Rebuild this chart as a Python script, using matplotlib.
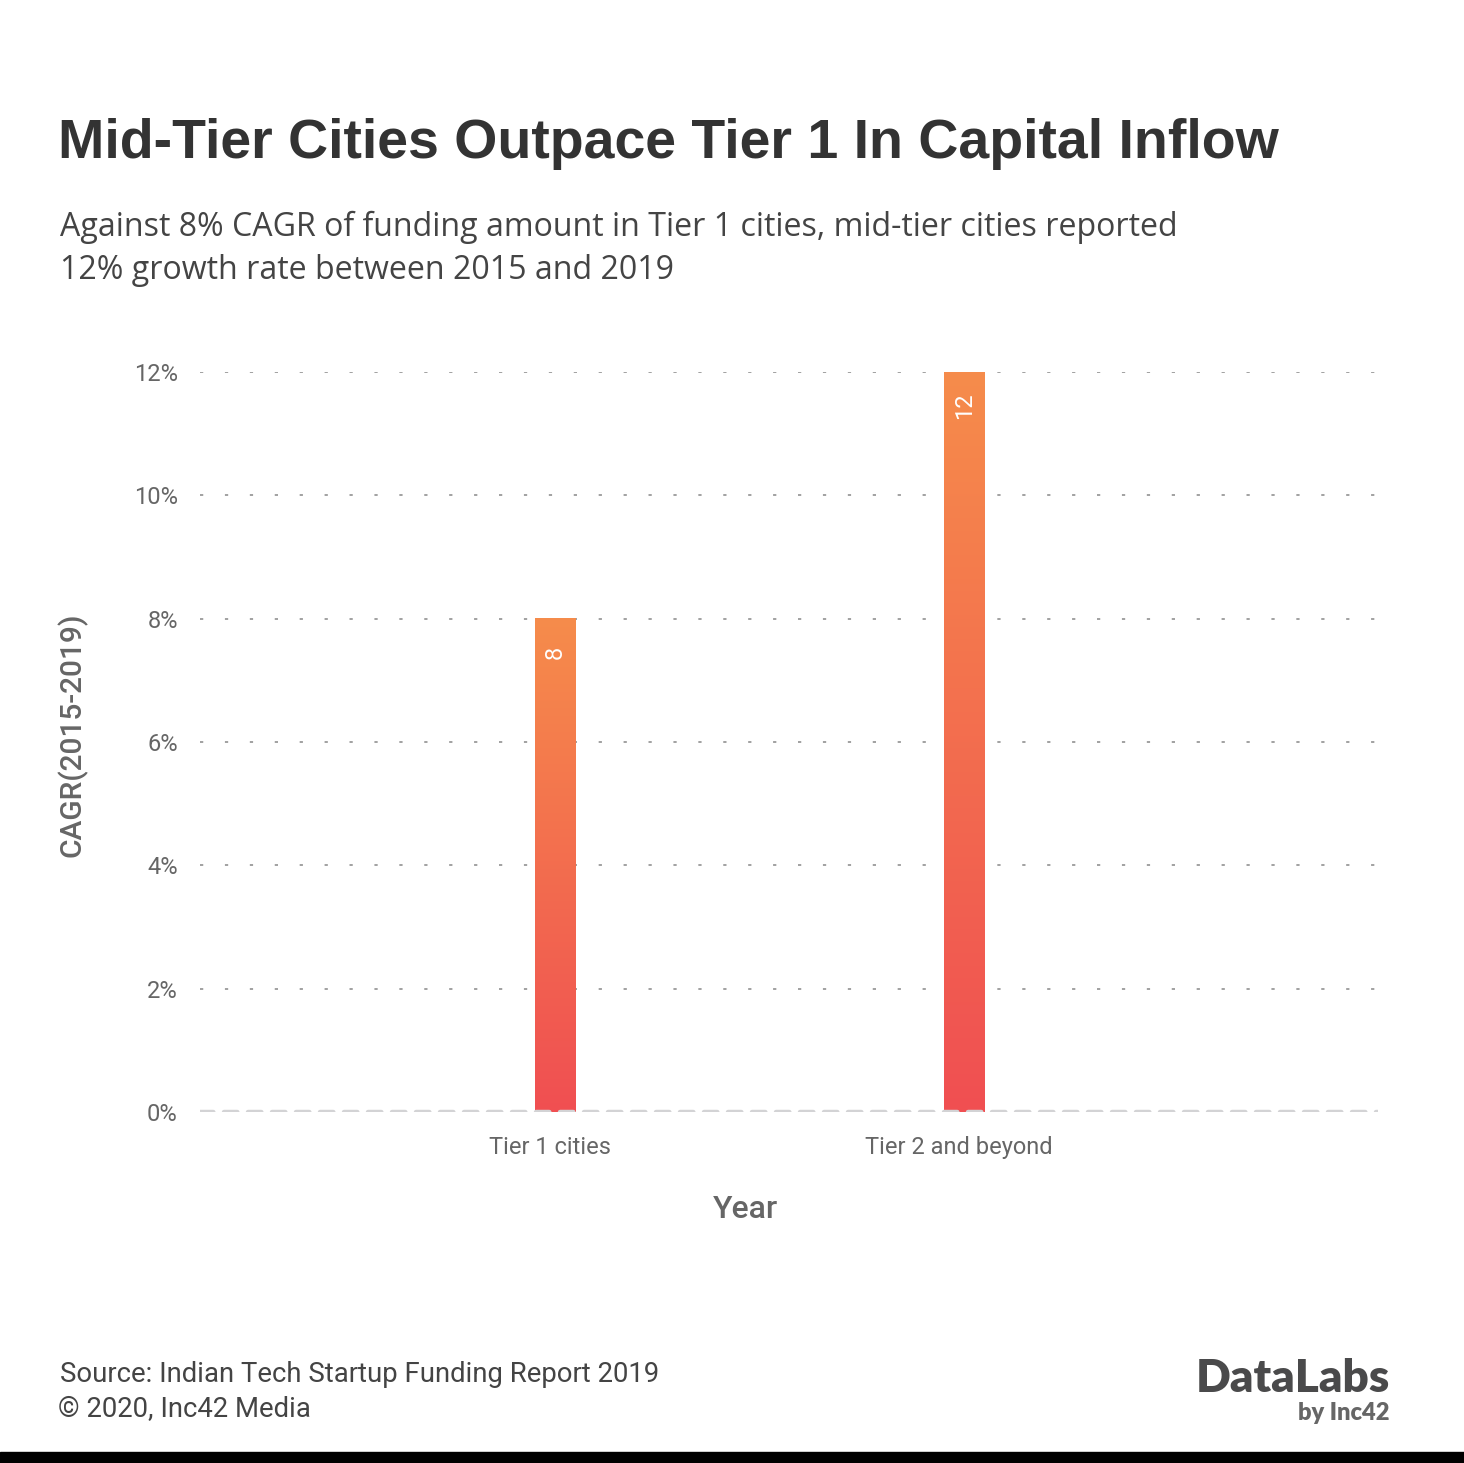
import matplotlib
matplotlib.use("Agg")
import matplotlib.pyplot as plt
import numpy as np
from matplotlib.colors import LinearSegmentedColormap
from matplotlib.patches import Rectangle

categories = ["Tier 1 cities", "Tier 2 and beyond"]
values = [8, 12]
yticks = [0, 2, 4, 6, 8, 10, 12]
ytick_labels = ["0%", "2%", "4%", "6%", "8%", "10%", "12%"]

title = "Mid-Tier Cities Outpace Tier 1 In Capital Inflow"
subtitle_lines = ["Against 8% CAGR of funding amount in Tier 1 cities, mid-tier cities reported",
                  "12% growth rate between 2015 and 2019"]

W, H = 1464, 1463
fig = plt.figure(figsize=(W / 100, H / 100), dpi=100)
fig.patch.set_facecolor("white")

ax_l, ax_r = 200, 1378
ax_b, ax_t = 1112, 372
ax = fig.add_axes([ax_l / W, 1 - ax_b / H, (ax_r - ax_l) / W, (ax_b - ax_t) / H])
x = np.arange(len(categories))
for s in ax.spines.values():
    s.set_visible(False)

cmap = LinearSegmentedColormap.from_list("g", ["#F04F52", "#F68C4B"])
bw = 0.098
grad = np.linspace(0, 1, 256).reshape(-1, 1)
for xi, v in zip(x, values):
    ax.imshow(grad, cmap=cmap, origin="lower", aspect="auto",
              extent=[xi - bw / 2, xi + bw / 2, 0, v], zorder=2, interpolation="bicubic")
    ax.text(xi, v - 0.55, str(v), rotation=90, ha="center", va="center",
            color="white", fontsize=17, family="Roboto", zorder=3)
ax.set_xlim(-0.868, 2.012)
ax.set_ylim(0, 12)

for yv in yticks[1:]:
    ax.axhline(yv, color="#9a9a9a", lw=1.3, ls=(0, (1.8, 12)), zorder=1)
ax.axhline(0, color="#d3d3d5", lw=3.2, ls=(0, (3.0, 2.4)), zorder=3, dash_capstyle="round")

ax.set_yticks(yticks)
ax.set_yticklabels(ytick_labels, family="Roboto", fontsize=17, color="#666666")
ax.set_xticks(x)
ax.set_xticklabels(categories, family="Roboto", fontsize=17, color="#666666")
ax.tick_params(axis="both", length=0)
ax.tick_params(axis="y", pad=16)
ax.tick_params(axis="x", pad=17)
for lbl in ax.get_xticklabels():
    lbl.set_x(lbl.get_position()[0] - 0.012)
ax.set_xticks(x - 0.012)
ax.set_xticklabels(categories, family="Roboto", fontsize=17, color="#666666")

fig.text(72 / W, 1 - 735 / H, "CAGR(2015-2019)", rotation=90, ha="center", va="center",
         family="Roboto", fontweight="medium", fontsize=21.5, color="#666666")
fig.text(746 / W, 1 - 1210 / H, "Year", ha="center", va="center",
         family="Roboto", fontweight="medium", fontsize=23, color="#666666")

fig.text(58 / W, 1 - 158 / H, title, ha="left", va="baseline",
         family="Liberation Sans", fontweight="bold", fontsize=40, color="#333333")
fig.text(60 / W, 1 - 236 / H, subtitle_lines[0], ha="left", va="baseline",
         family="Open Sans", fontsize=23.1, color="#444444")
fig.text(60 / W, 1 - 279 / H, subtitle_lines[1], ha="left", va="baseline",
         family="Open Sans", fontsize=23.1, color="#444444")

fig.text(60 / W, 1 - 1382 / H, "Source: Indian Tech Startup Funding Report 2019",
         ha="left", va="baseline", family="Roboto", fontsize=19.8, color="#444444")
fig.text(58 / W, 1 - 1417 / H, "\u00a9 2020, Inc42 Media",
         ha="left", va="baseline", family="Roboto", fontsize=19.8, color="#444444")

fig.text(1390 / W, 1 - 1392 / H, "DataLabs", ha="right", va="baseline",
         family="Lato", fontweight="heavy", fontsize=33, color="#4a4a4b")
fig.text(1390 / W, 1 - 1420 / H, "by Inc42", ha="right", va="baseline",
         family="Lato", fontweight="heavy", fontsize=17, color="#666666")

fig.patches.append(Rectangle((0, 0), 1, 11 / H, transform=fig.transFigure,
                             color="black", zorder=10))

fig.savefig("out.png", dpi=100, facecolor="white")
